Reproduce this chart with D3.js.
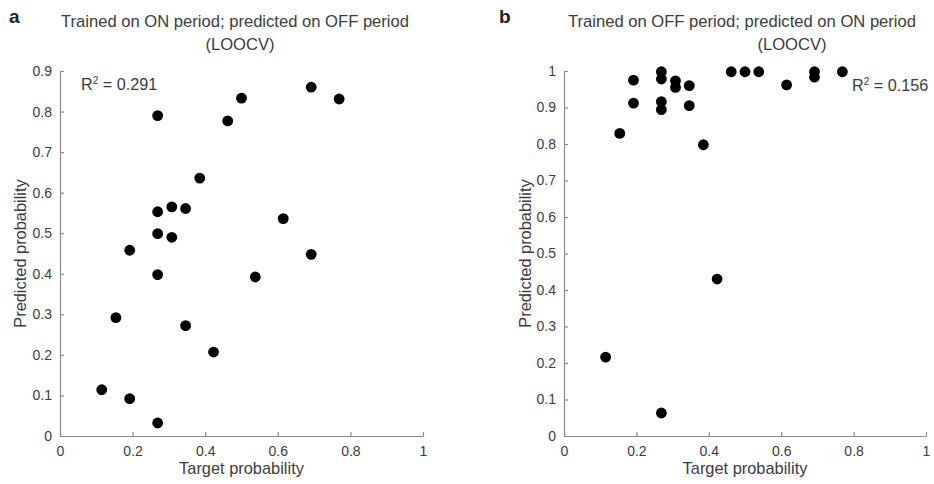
<!DOCTYPE html>
<html><head><meta charset="utf-8">
<script src="https://cdn.jsdelivr.net/npm/d3@7"></script>
<style>
html,body{margin:0;padding:0;background:#fff;}
svg text{font-family:"Liberation Sans",Arial,Helvetica,sans-serif;}
</style>
</head><body>
<svg id="chart" width="934" height="484"></svg>
<script>
// Panel a: trained on ON period, predicted on OFF period
const targetA = [0.269,0.462,0.500,0.692,0.769,0.385,0.269,0.308,0.346,0.615,0.269,0.308,0.192,0.692,0.269,0.538,0.154,0.346,0.423,0.115,0.192,0.269];
const predA   = [0.790,0.777,0.833,0.860,0.831,0.636,0.553,0.565,0.561,0.536,0.499,0.490,0.458,0.448,0.398,0.392,0.292,0.272,0.207,0.114,0.092,0.032];
// Panel b: trained on OFF period, predicted on ON period
const targetB = [0.192,0.269,0.269,0.308,0.308,0.346,0.192,0.269,0.269,0.346,0.154,0.462,0.500,0.538,0.615,0.692,0.692,0.769,0.385,0.423,0.115,0.269];
const predB   = [0.975,0.998,0.978,0.973,0.955,0.960,0.912,0.916,0.894,0.905,0.829,0.998,0.998,0.998,0.962,0.998,0.983,0.998,0.798,0.430,0.216,0.063];
const xTicksA = [0,0.2,0.4,0.6,0.8,1];
const yTicksA = [0,0.1,0.2,0.3,0.4,0.5,0.6,0.7,0.8,0.9];
const xTicksB = [0,0.2,0.4,0.6,0.8,1];
const yTicksB = [0,0.1,0.2,0.3,0.4,0.5,0.6,0.7,0.8,0.9,1];
const titlesA = ["Trained on ON period; predicted on OFF period","(LOOCV)"];
const titlesB = ["Trained on OFF period; predicted on ON period","(LOOCV)"];
const r2A = "0.291", r2B = "0.156";

const svg = d3.select("#chart");
const axisCol = "#8a8a8a", textCol = "#3c3c3c";

function panel(cfg){
  const g = svg.append("g");
  const x = d3.scaleLinear().domain([0,1]).range([cfg.x0, cfg.x1]);
  const y = d3.scaleLinear().domain([0, cfg.ymax]).range([436, 71]);
  const fmt = d => d===0 ? "0" : (d===1 ? "1" : d3.format(".1f")(d));
  const xa = g.append("g").attr("transform","translate(0,436)")
    .call(d3.axisBottom(x).tickValues(cfg.xt).tickSize(-4).tickSizeOuter(0).tickPadding(10).tickFormat(fmt));
  const ya = g.append("g").attr("transform",`translate(${cfg.x0},0)`)
    .call(d3.axisLeft(y).tickValues(cfg.yt).tickSize(-4).tickSizeOuter(0).tickPadding(8).tickFormat(fmt));
  [xa,ya].forEach(a=>{
    a.selectAll("path,line").attr("stroke",axisCol).attr("stroke-width",1.2);
    a.selectAll("text").attr("fill",textCol).attr("font-size",14)
      .attr("font-family","Liberation Sans, Arial, sans-serif");
  });
  g.selectAll("circle.d").data(cfg.tx.map((t,i)=>[t,cfg.py[i]])).join("circle")
    .attr("cx",d=>x(d[0])).attr("cy",d=>y(d[1])).attr("r",5.4).attr("fill","#000");
  // titles
  g.append("text").attr("x",cfg.t1x).attr("y",27).attr("text-anchor","middle")
    .attr("font-size",16.6).attr("fill",textCol).text(cfg.titles[0]);
  g.append("text").attr("x",cfg.t2x).attr("y",50).attr("text-anchor","middle")
    .attr("font-size",16.6).attr("fill",textCol).text(cfg.titles[1]);
  g.append("text").attr("x",cfg.lx).attr("y",23).attr("font-size",19).attr("font-weight","bold")
    .attr("fill","#222").text(cfg.letter);
  // axis labels
  g.append("text").attr("x",(cfg.x0+cfg.x1)/2).attr("y",474).attr("text-anchor","middle")
    .attr("font-size",16.4).attr("fill",textCol).text("Target probability");
  g.append("text").attr("transform",`translate(${cfg.ylx},253.5) rotate(-90)`).attr("text-anchor","middle")
    .attr("font-size",16.4).attr("fill",textCol).text("Predicted probability");
  // R^2
  const rt = g.append("text").attr("x",cfg.rx).attr("y",cfg.ry).attr("font-size",16.2).attr("fill",textCol);
  rt.append("tspan").text("R");
  rt.append("tspan").attr("font-size",10).attr("dy",-6).text("2");
  rt.append("tspan").attr("dy",6).text(" = " + cfg.r2);
}

panel({x0:60,x1:423,ymax:0.9,xt:xTicksA,yt:yTicksA,tx:targetA,py:predA,titles:titlesA,
  t1x:235,t2x:240,lx:9,letter:"a",ylx:26,rx:81,ry:90,r2:r2A});
panel({x0:564,x1:926,ymax:1,xt:xTicksB,yt:yTicksB,tx:targetB,py:predB,titles:titlesB,
  t1x:742,t2x:792,lx:499,letter:"b",ylx:531,rx:852,ry:91,r2:r2B});
</script>
</body></html>
